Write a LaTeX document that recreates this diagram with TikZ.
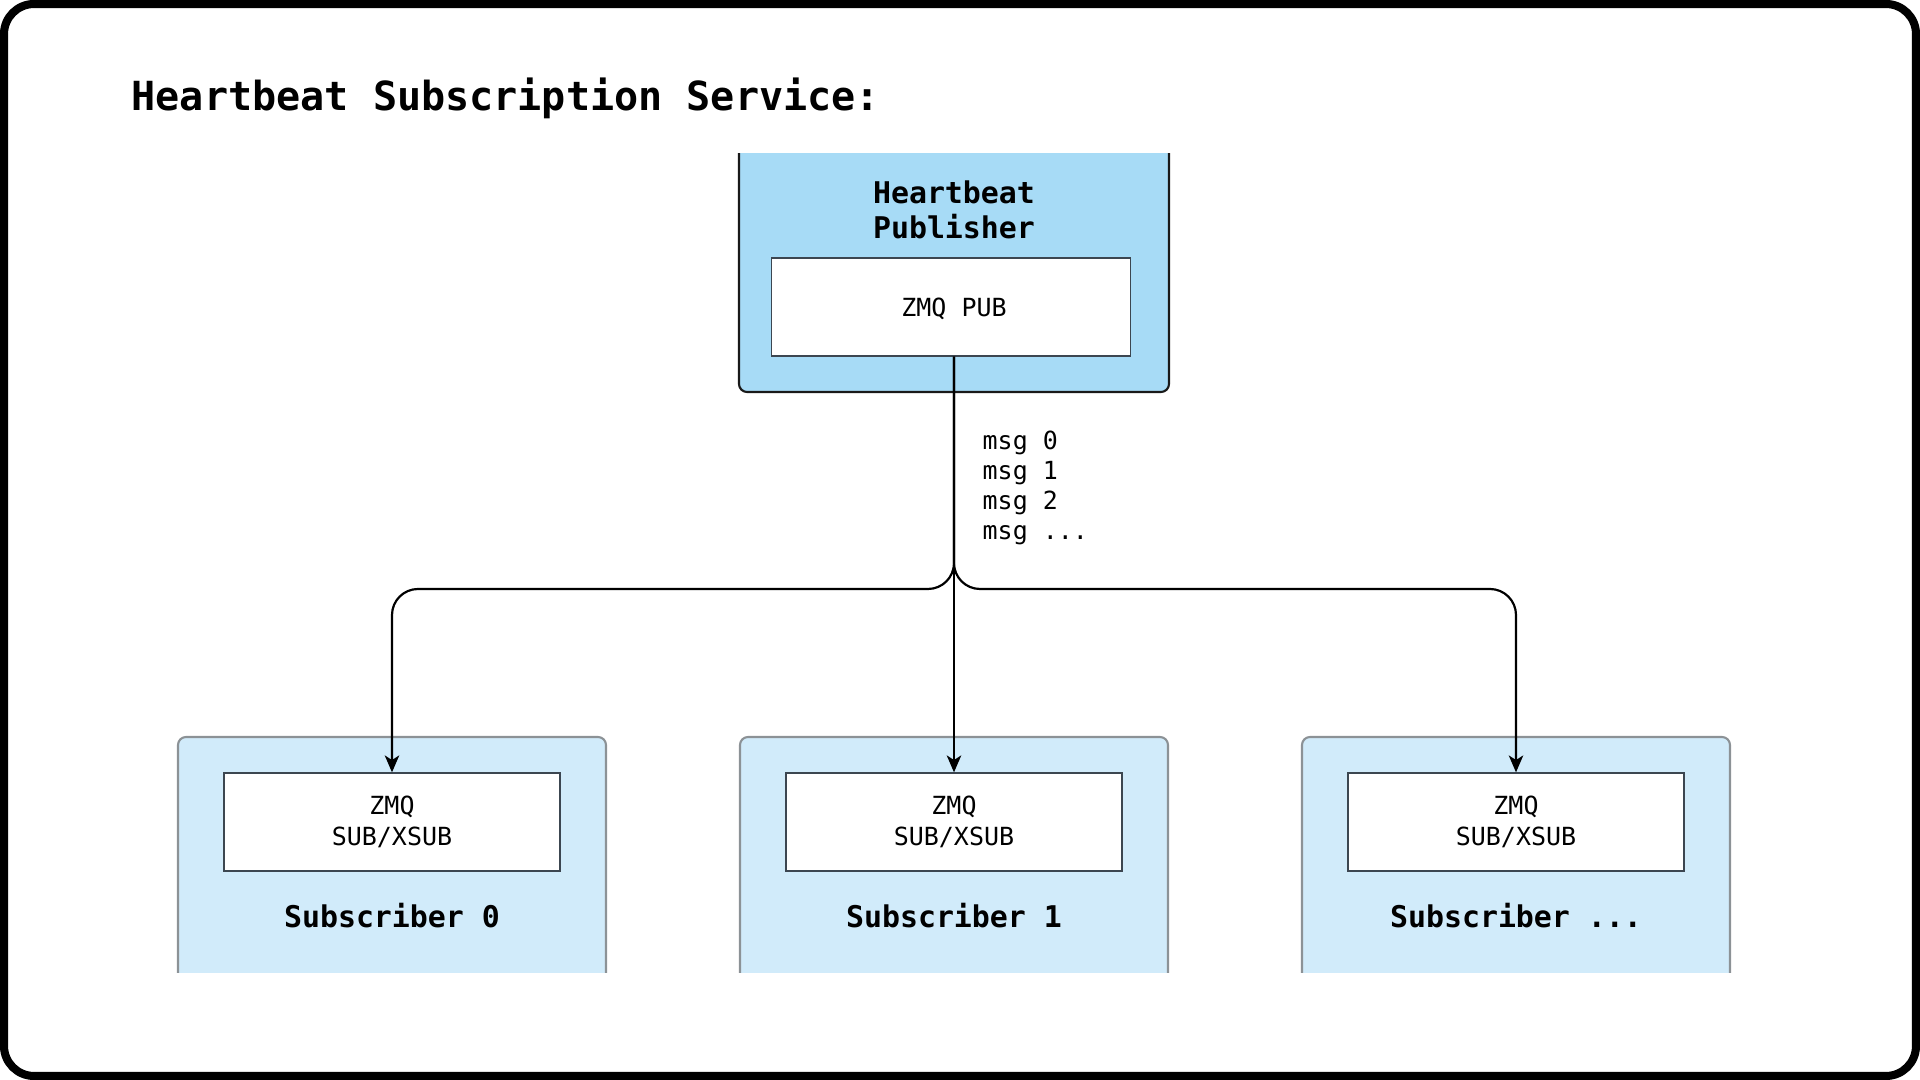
\documentclass[tikz,border=0pt]{standalone}
\usepackage{fontspec}
\setmainfont{DejaVu Sans Mono}
\usetikzlibrary{arrows.meta}
\definecolor{pubfill}{HTML}{A7DBF6}
\definecolor{subfill}{HTML}{D1EBFA}
\definecolor{subline}{HTML}{8C9296}
\definecolor{sockline}{HTML}{3C4650}
\tikzset{
  sock/.style={draw=sockline, line width=0.35pt, fill=white, minimum width=3.36cm,
    minimum height=0.98cm, align=center, inner sep=0pt, font=\fontsize{7.1}{8.8}\selectfont},
  role/.style={font=\bfseries\fontsize{8.5}{10}\selectfont, align=center, inner sep=0pt},
  flow/.style={-{Stealth[length=4.8pt,width=4.1pt,inset=1.3pt]}, line width=0.62pt,
    rounded corners=0.26cm},
}
\begin{document}
\begin{tikzpicture}[x=0.01cm,y=-0.01cm]
  \useasboundingbox (0,0) rectangle (1920,1080);
  \draw[line width=2.3pt, rounded corners=0.3cm] (4,4) rectangle (1916,1076);
  \node[anchor=base west, inner sep=0pt, font=\bfseries\fontsize{11.4}{13}\selectfont]
    (title) at (131,111) {Heartbeat Subscription Service:};
  % the boxes run past the view, top and bottom
  \begin{scope}
    \clip (0,154) rectangle (1920,973);
    \filldraw[fill=pubfill, draw=black!90, line width=0.6pt, rounded corners=0.08cm]
      (739,120) rectangle (1169,392);
    \filldraw[fill=subfill, draw=subline, line width=0.6pt, rounded corners=0.08cm]
      (178,737) rectangle (606,1010);
    \filldraw[fill=subfill, draw=subline, line width=0.6pt, rounded corners=0.08cm]
      (740,737) rectangle (1168,1010);
    \filldraw[fill=subfill, draw=subline, line width=0.6pt, rounded corners=0.08cm]
      (1302,737) rectangle (1730,1010);
  \end{scope}
  \node[role] (pubname) at (954,210) {Heartbeat\\Publisher};
  \node[sock, minimum width=3.59cm, text height=6.5pt, text depth=1.1pt]
    (pubsock) at (951,307) {\hspace*{1.7pt}ZMQ PUB};
  \node[sock] (sock0) at (392,822) {ZMQ\\SUB/XSUB};
  \node[sock] (sock1) at (954,822) {ZMQ\\SUB/XSUB};
  \node[sock] (sock2) at (1516,822) {ZMQ\\SUB/XSUB};
  \node[role] (sub0) at (392,916) {Subscriber 0};
  \node[role] (sub1) at (954,916) {Subscriber 1};
  \node[role] (sub2) at (1516,916) {Subscriber ...};
  \node[anchor=west, align=left, inner sep=0pt, font=\fontsize{7.1}{8.5}\selectfont]
    (msgs) at (982,488) {msg 0\\msg 1\\msg 2\\msg ...};
  \coordinate (fork) at (954,589);
  \draw[flow] (pubsock.south -| fork) -- (sock1.north);
  \draw[flow] (pubsock.south -| fork) -- (fork) -| (sock0.north);
  \draw[flow] (pubsock.south -| fork) -- (fork) -| (sock2.north);
\end{tikzpicture}
\end{document}
